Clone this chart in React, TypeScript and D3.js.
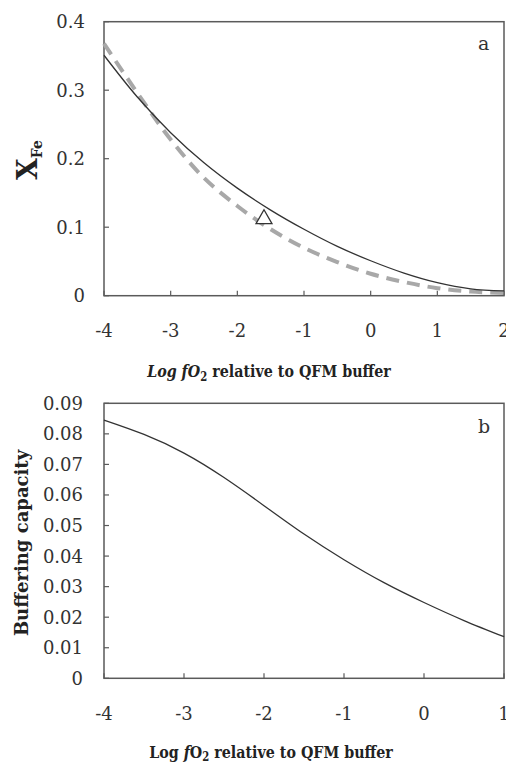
import React from "react";
import * as d3 from "d3";

// panel a: X_Fe against log fO2 (relative to QFM)
const xA = [-4, -3.5, -3, -2.5, -2, -1.5, -1, -0.5, 0, 0.5, 1, 1.5, 2];
const solidA = [0.351, 0.29, 0.238, 0.194, 0.157, 0.125, 0.097, 0.072, 0.051, 0.033, 0.019, 0.01, 0.007];
const dashedA = [0.368, 0.296, 0.228, 0.172, 0.131, 0.097, 0.07, 0.049, 0.032, 0.02, 0.011, 0.006, 0.004];
const pointA = { x: -1.6, y: 0.112 };
const xTicksA = [-4, -3, -2, -1, 0, 1, 2];
const yTicksA = [0, 0.1, 0.2, 0.3, 0.4];

// panel b: buffering capacity
const xB = [-4, -3.5, -3, -2.5, -2, -1.5, -1, -0.5, 0, 0.5, 1];
const bufB = [0.0845, 0.0798, 0.0737, 0.0657, 0.0565, 0.0472, 0.0388, 0.0313, 0.0248, 0.0189, 0.0136];
const xTicksB = [-4, -3, -2, -1, 0, 1];
const yTicksB = [0, 0.01, 0.02, 0.03, 0.04, 0.05, 0.06, 0.07, 0.08, 0.09];

const W = 506;
const H = 764;
// Liberation Serif isn't picked up in the sandbox, DejaVu Serif is
const font = "'DejaVu Serif', serif";
const axisColor = "#5a5a5a";
const lineColor = "#333";

const Frame = ({ x, y, xTicks, yTicks, yFmt, tickY, labelX }) => {
  const [x0, x1] = x.range();
  const [y0, y1] = y.range();
  return (
    <g>
      <rect x={x0} y={y1} width={x1 - x0} height={y0 - y1} fill="none" stroke={axisColor} strokeWidth={1.5} />
      {xTicks.map((t) => (
        <g key={"x" + t}>
          <line x1={x(t)} x2={x(t)} y1={y0} y2={y0 - 5} stroke={axisColor} strokeWidth={1.2} />
          <text x={x(t)} y={tickY} textAnchor="middle" fontSize={18} fill="#333">{t}</text>
        </g>
      ))}
      {yTicks.map((t) => (
        <g key={"y" + t}>
          <line x1={x0} x2={x0 + 5} y1={y(t)} y2={y(t)} stroke={axisColor} strokeWidth={1.2} />
          <text x={labelX} y={y(t)} dy="0.36em" textAnchor="end" fontSize={18} fill="#333">{yFmt(t)}</text>
        </g>
      ))}
    </g>
  );
};

export default function App() {
  const xa = d3.scaleLinear().domain([-4, 2]).range([104, 504]);
  const ya = d3.scaleLinear().domain([0, 0.4]).range([295.7, 21.7]);
  const xb = d3.scaleLinear().domain([-4, 1]).range([104, 504]);
  const yb = d3.scaleLinear().domain([0, 0.09]).range([678.3, 403.3]);

  const lineA = d3
    .line<number>()
    .x((_, i) => xa(xA[i]))
    .y((d) => ya(d))
    .curve(d3.curveCatmullRom.alpha(0.5));
  const lineB = d3
    .line<number>()
    .x((_, i) => xb(xB[i]))
    .y((d) => yb(d))
    .curve(d3.curveNatural);

  const tri = d3.symbol(d3.symbolTriangle, 110)();

  const fmtA = (t) => (t === 0 ? "0" : d3.format(".1f")(t));
  const fmtB = (t) => (t === 0 ? "0" : d3.format(".2f")(t));

  return (
    <svg width={W} height={H} style={{ position: "absolute", left: 0, top: 0 }}>
      <rect width={W} height={H} fill="#fff" />
      <g fontFamily={font}>
        {/* panel a */}
        <Frame x={xa} y={ya} xTicks={xTicksA} yTicks={yTicksA} yFmt={fmtA} tickY={337} labelX={85} />
        <path d={lineA(dashedA)} fill="none" stroke="#a8a8a8" strokeWidth={4} strokeDasharray="13,8" />
        <path d={lineA(solidA)} fill="none" stroke={lineColor} strokeWidth={1.3} />
        <path d={tri} transform={`translate(${xa(pointA.x)},${ya(pointA.y)})`} fill="#fff" stroke={lineColor} strokeWidth={1.3} />
        <text x={478} y={50} fontSize={19} fill="#333">a</text>
        <text transform="translate(37,160) rotate(-90)" textAnchor="middle" fontWeight="bold" fill="#222">
          <tspan fontSize={28}>X</tspan>
          <tspan fontSize={14} dy={5}>Fe</tspan>
        </text>
        <text transform="translate(269,377) scale(0.84,1)" textAnchor="middle" fontSize={17} fontWeight="bold" fill="#222">
          <tspan fontStyle="italic">Log fO</tspan>
          <tspan fontSize={12} dy={4}>2</tspan>
          <tspan dy={-4}> relative to QFM buffer</tspan>
        </text>

        {/* panel b */}
        <Frame x={xb} y={yb} xTicks={xTicksB} yTicks={yTicksB} yFmt={fmtB} tickY={720} labelX={83} />
        <path d={lineB(bufB)} fill="none" stroke={lineColor} strokeWidth={1.3} />
        <text x={478} y={433} fontSize={19} fill="#333">b</text>
        <text transform="translate(28,543) rotate(-90)" textAnchor="middle" fontSize={18} fontWeight="bold" fill="#222">
          Buffering capacity
        </text>
        <text transform="translate(271,758) scale(0.84,1)" textAnchor="middle" fontSize={17} fontWeight="bold" fill="#222">
          <tspan>Log </tspan>
          <tspan fontStyle="italic">f</tspan>
          <tspan>O</tspan>
          <tspan fontSize={12} dy={3}>2</tspan>
          <tspan dy={-3}> relative to QFM buffer</tspan>
        </text>
      </g>
    </svg>
  );
}
